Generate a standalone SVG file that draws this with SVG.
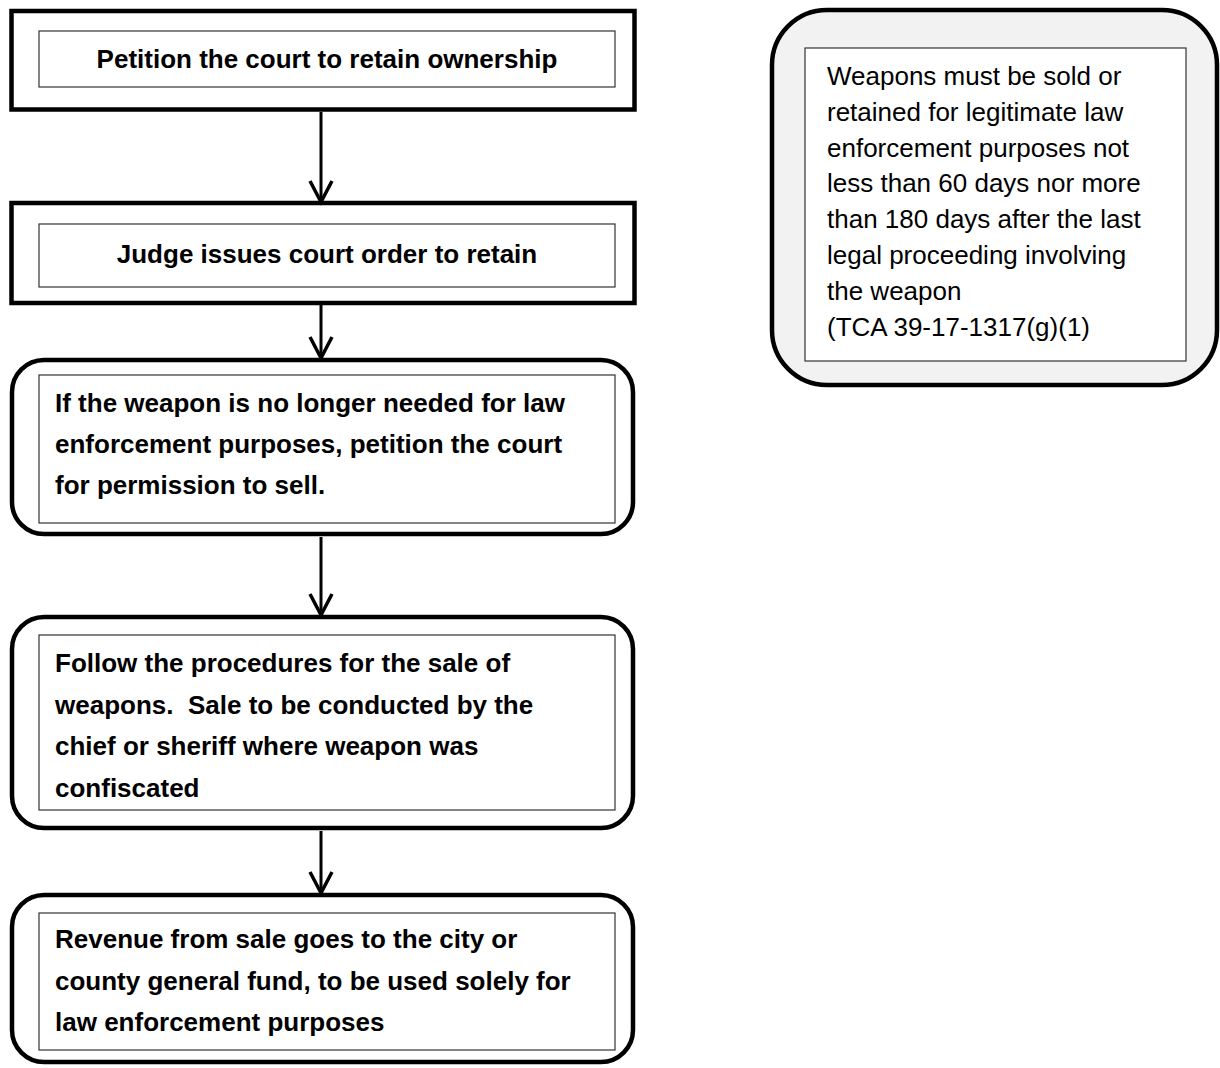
<svg xmlns="http://www.w3.org/2000/svg" width="1220" height="1068" viewBox="0 0 1220 1068">
  <style>
    .outer { fill: #ffffff; stroke: #000000; stroke-width: 4.5; }
    .inner { fill: #ffffff; stroke: #333333; stroke-width: 1.2; }
    .note-outer { fill: #f2f2f2; stroke: #000000; stroke-width: 4.5; }
    .b { font-family: "Liberation Sans", Arial, sans-serif; font-weight: bold; font-size: 26px; fill: #000000; }
    .r { font-family: "Liberation Sans", Arial, sans-serif; font-size: 26px; fill: #000000; }
    .conn { stroke: #000000; stroke-width: 3; fill: none; }
  </style>
  <defs>
    <marker id="vhead" markerUnits="userSpaceOnUse" viewBox="-24 -14 28 28" refX="0" refY="0" markerWidth="28" markerHeight="28" orient="auto">
      <path d="M -21 -11 L 0 0 L -21 11" fill="none" stroke="#000000" stroke-width="3.5" stroke-linejoin="miter"/>
    </marker>
  </defs>
  <rect width="1220" height="1068" fill="#ffffff"/>

  <g id="node-petition">
    <rect class="outer" x="11.5" y="11" width="623" height="98.5"/>
    <rect class="inner" x="39" y="31" width="576" height="56"/>
    <text class="b" x="327" y="68" text-anchor="middle">Petition the court to retain ownership</text>
  </g>

  <g id="node-judge">
    <rect class="outer" x="11.5" y="203" width="623" height="100"/>
    <rect class="inner" x="39" y="224" width="576" height="63"/>
    <text class="b" x="327" y="263" text-anchor="middle">Judge issues court order to retain</text>
  </g>

  <g id="node-permission">
    <rect class="outer" x="12" y="360" width="621" height="174" rx="32" ry="32"/>
    <rect class="inner" x="39" y="375" width="576" height="148"/>
    <text class="b" x="55" y="412">If the weapon is no longer needed for law</text>
    <text class="b" x="55" y="453">enforcement purposes, petition the court</text>
    <text class="b" x="55" y="494">for permission to sell.</text>
  </g>

  <g id="node-sale">
    <rect class="outer" x="12" y="617" width="621" height="211" rx="32" ry="32"/>
    <rect class="inner" x="39" y="635" width="576" height="175"/>
    <text class="b" x="55" y="672">Follow the procedures for the sale of</text>
    <text class="b" x="55" y="714">weapons.&#160; Sale to be conducted by the</text>
    <text class="b" x="55" y="755">chief or sheriff where weapon was</text>
    <text class="b" x="55" y="797">confiscated</text>
  </g>

  <g id="node-revenue">
    <rect class="outer" x="12" y="895" width="621" height="167" rx="32" ry="32"/>
    <rect class="inner" x="39" y="913" width="576" height="137"/>
    <text class="b" x="55" y="948">Revenue from sale goes to the city or</text>
    <text class="b" x="55" y="990">county general fund, to be used solely for</text>
    <text class="b" x="55" y="1031">law enforcement purposes</text>
  </g>

  <g id="node-note">
    <rect class="note-outer" x="772" y="10" width="445" height="375" rx="55" ry="55"/>
    <rect class="inner" x="805" y="48" width="381" height="313"/>
    <text class="r" x="827" y="85">Weapons must be sold or</text>
    <text class="r" x="827" y="121">retained for legitimate law</text>
    <text class="r" x="827" y="157">enforcement purposes not</text>
    <text class="r" x="827" y="192">less than 60 days nor more</text>
    <text class="r" x="827" y="228">than 180 days after the last</text>
    <text class="r" x="827" y="264">legal proceeding involving</text>
    <text class="r" x="827" y="300">the weapon</text>
    <text class="r" x="827" y="336">(TCA 39-17-1317(g)(1)</text>
  </g>

  <g id="connectors">
    <line class="conn" x1="321" y1="112" x2="321" y2="202" marker-end="url(#vhead)"/>
    <line class="conn" x1="321" y1="305" x2="321" y2="358" marker-end="url(#vhead)"/>
    <line class="conn" x1="321" y1="537" x2="321" y2="615" marker-end="url(#vhead)"/>
    <line class="conn" x1="321" y1="831" x2="321" y2="893" marker-end="url(#vhead)"/>
  </g>
</svg>
